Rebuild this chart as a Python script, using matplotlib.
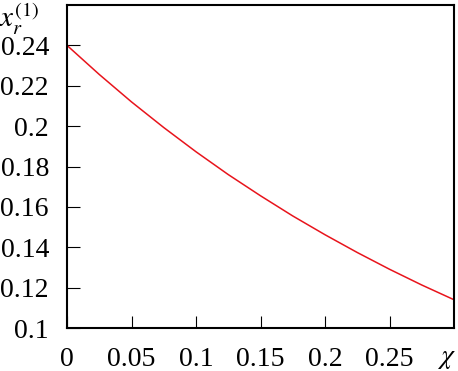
import numpy as np
import matplotlib
matplotlib.use('Agg')
import matplotlib.pyplot as plt

# values
chi = [0.0, 0.025, 0.05, 0.075, 0.1, 0.125, 0.15, 0.175, 0.2, 0.225, 0.25, 0.275, 0.3]
xr1 = [0.240, 0.2256, 0.2120, 0.1993, 0.1873, 0.1760, 0.1655, 0.1555, 0.1462,
       0.1374, 0.1291, 0.1213, 0.1140]

x_ticks = [0, 0.05, 0.1, 0.15, 0.2, 0.25]
x_labels = ['0', '0.05', '0.1', '0.15', '0.2', '0.25']
y_ticks = [0.1, 0.12, 0.14, 0.16, 0.18, 0.2, 0.22, 0.24]
y_labels = ['0.1', '0.12', '0.14', '0.16', '0.18', '0.2', '0.22', '0.24']

plt.rcParams['font.family'] = ['Liberation Serif', 'DejaVu Serif']
plt.rcParams['mathtext.fontset'] = 'stix'

fig = plt.figure(figsize=(4.58, 3.71), dpi=100)
ax = fig.add_axes([0.1463, 0.1159, 0.9913 - 0.1463, 0.9865 - 0.1159])

ax.plot(chi, xr1, color='#e8141c', lw=1.1)

ax.set_xlim(0, 0.3)
ax.set_ylim(0.1, 0.26)
ax.set_xticks(x_ticks)
ax.set_xticklabels(x_labels)
ax.set_yticks(y_ticks)
ax.set_yticklabels(y_labels)

ax.tick_params(direction='in', length=9, width=0.8, labelsize=20,
               top=False, right=False)
ax.tick_params(axis='y', pad=13)
ax.tick_params(axis='x', pad=14)
for s in ax.spines.values():
    s.set_linewidth(1.5)

# axis names sit where the last tick labels would be
ax.annotate(r'$\chi$', xy=(1.0, 0), xycoords=('axes fraction', 'axes fraction'),
            xytext=(-12, -13), textcoords='offset points',
            ha='left', va='top', fontsize=20)
ax.annotate(r'$x_r^{(1)}$', xy=(0, 1.0), xycoords=('axes fraction', 'axes fraction'),
            xytext=(-20, -16), textcoords='offset points',
            ha='right', va='baseline', fontsize=21)

fig.savefig('out.png', dpi=100)
